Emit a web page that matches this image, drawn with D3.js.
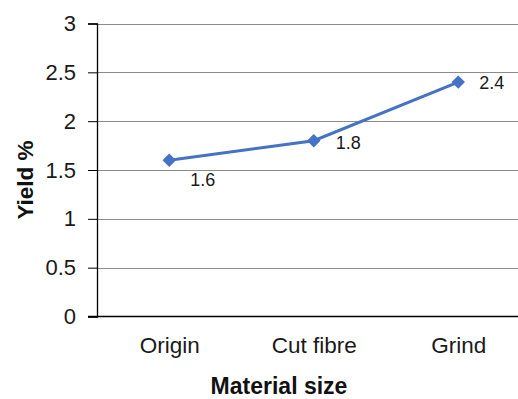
<!DOCTYPE html>
<html>
<head>
<meta charset="utf-8">
<script src="https://cdn.jsdelivr.net/npm/d3@7"></script>
<style>
  html, body { margin: 0; padding: 0; background: #fff; }
  svg { display: block; font-family: "Liberation Sans", Arial, sans-serif; }
</style>
</head>
<body>
<svg id="chart" width="518" height="399"></svg>
<script>
// Yield by material size
const categories = ["Origin", "Cut fibre", "Grind"];
const yieldValues = [1.6, 1.8, 2.4];
const yTicks = [0, 0.5, 1, 1.5, 2, 2.5, 3];

const svg = d3.select("#chart");
const plotLeft = 97, plotRight = 530.5, plotTop = 23.5, plotBottom = 316.5;

const x = d3.scalePoint().domain(categories).range([plotLeft, plotRight]).padding(0.5);
const y = d3.scaleLinear().domain([0, 3]).range([plotBottom, plotTop]);

// horizontal gridlines
svg.append("g")
  .selectAll("line")
  .data(yTicks.filter(t => t > 0))
  .join("line")
  .attr("x1", plotLeft).attr("x2", 518)
  .attr("y1", d => Math.round(y(d)) + 0.5).attr("y2", d => Math.round(y(d)) + 0.5)
  .attr("stroke", "#8c8c8c").attr("stroke-width", 1);

// y axis
const yAxis = svg.append("g")
  .attr("transform", `translate(${plotLeft},0)`)
  .call(d3.axisLeft(y).tickValues(yTicks).tickSize(9).tickPadding(12).tickFormat(d3.format("")));
yAxis.select(".domain").attr("stroke", "#000").attr("stroke-width", 1.3);
yAxis.selectAll(".tick line").attr("stroke", "#000");
yAxis.selectAll(".tick text")
  .attr("font-size", 22).attr("fill", "#1a1a1a")
  .attr("font-family", "Liberation Sans, Arial, sans-serif");

// x axis
const xAxis = svg.append("g")
  .attr("transform", `translate(0,${plotBottom})`)
  .call(d3.axisBottom(x).tickSize(0).tickPadding(21));
xAxis.select(".domain").remove();
xAxis.append("line")
  .attr("x1", plotLeft - 9).attr("x2", 518).attr("y1", 0).attr("y2", 0)
  .attr("stroke", "#000").attr("stroke-width", 1.3);
xAxis.selectAll(".tick text")
  .attr("font-size", 22.5).attr("fill", "#1a1a1a")
  .attr("font-family", "Liberation Sans, Arial, sans-serif");

// series line
const pts = categories.map((c, i) => [x(c), y(yieldValues[i])]);
svg.append("path")
  .datum(pts)
  .attr("d", d3.line())
  .attr("fill", "none")
  .attr("stroke", "#4472C4")
  .attr("stroke-width", 3);

// diamond markers
svg.append("g")
  .selectAll("path")
  .data(pts)
  .join("path")
  .attr("transform", d => `translate(${d[0]},${d[1]})`)
  .attr("d", d3.symbol(d3.symbolDiamond2, 115)())
  .attr("fill", "#4472C4");

// value labels
const labelOffsets = [[21, 26], [22, 8], [21, 7]];
svg.append("g")
  .selectAll("text")
  .data(yieldValues)
  .join("text")
  .attr("x", (d, i) => pts[i][0] + labelOffsets[i][0])
  .attr("y", (d, i) => pts[i][1] + labelOffsets[i][1])
  .attr("font-size", 18)
  .attr("fill", "#1a1a1a")
  .text(d => d);

// axis titles
svg.append("text")
  .attr("x", 279).attr("y", 394)
  .attr("text-anchor", "middle")
  .attr("font-size", 23).attr("font-weight", "bold")
  .attr("fill", "#111")
  .text("Material size");

svg.append("text")
  .attr("transform", "translate(33,180) rotate(-90)")
  .attr("text-anchor", "middle")
  .attr("font-size", 22.5).attr("font-weight", "bold")
  .attr("fill", "#111")
  .text("Yield %");
</script>
</body>
</html>
